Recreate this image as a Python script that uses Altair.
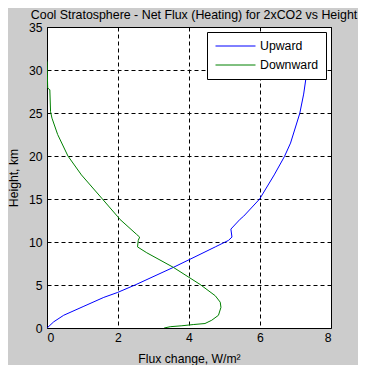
import altair as alt
import pandas as pd

# Upward flux change (W/m^2) vs height (km)
up_height = [0, 0.07, 0.72, 1.48, 2.53, 3.56, 4.12, 5.0, 7.05, 8.56, 9.43, 10.18,
             10.57, 11.5, 12.65, 13.0, 15.0, 17.8, 19.95, 21.5, 24.95, 27.2, 29.5, 30.0]
up_flux = [0, 0.02, 0.19, 0.47, 1.04, 1.6, 1.98, 2.48, 3.56, 4.31, 4.74, 5.11,
           5.21, 5.18, 5.44, 5.54, 5.99, 6.4, 6.69, 6.86, 7.12, 7.23, 7.31, 7.33]

# Downward flux change (W/m^2) vs height (km)
down_height = [0, 0.15, 0.26, 0.4, 0.52, 0.9, 1.48, 2.4, 3.0, 3.75, 5.07, 7.05, 8.75,
               9.43, 10.18, 10.57, 10.9, 12.65, 13.0, 15.1, 17.8, 20.0, 22.5, 24.4,
               25.15, 27.7, 27.9, 31.0]
down_flux = [3.3, 3.47, 3.8, 4.12, 4.45, 4.64, 4.83, 4.9, 4.88, 4.74, 4.31, 3.56, 2.81,
             2.55, 2.57, 2.61, 2.52, 2.05, 1.98, 1.54, 0.97, 0.59, 0.3, 0.14,
             0.1, 0.08, 0.02, 0.0]

series_names = ["Upward", "Downward"]
series_colors = ["#0000ff", "#008000"]
x_ticks = [0, 2, 4, 6, 8]
y_ticks = [0, 5, 10, 15, 20, 25, 30, 35]

rows = []
for i, (h, f) in enumerate(zip(up_height, up_flux)):
    rows.append({"series": "Upward", "height": h, "flux": f, "idx": i})
for i, (h, f) in enumerate(zip(down_height, down_flux)):
    rows.append({"series": "Downward", "height": h, "flux": f, "idx": i})
df = pd.DataFrame(rows)

FONT = "Liberation Sans"
FS = 12.2

chart = alt.Chart(df).mark_line(strokeWidth=1, clip=True).encode(
    x=alt.X("flux:Q",
            scale=alt.Scale(domain=[0, 8], nice=False, zero=False),
            axis=alt.Axis(values=x_ticks, title="Flux change, W/m²",
                          labelPadding=3, titlePadding=9)),
    y=alt.Y("height:Q",
            scale=alt.Scale(domain=[0, 35], nice=False),
            axis=alt.Axis(values=y_ticks, title="Height, km",
                          labelPadding=5, titlePadding=8)),
    color=alt.Color("series:N",
                    scale=alt.Scale(domain=series_names, range=series_colors),
                    legend=alt.Legend(orient="none", legendX=160, legendY=5,
                                      title=None, fillColor="white",
                                      strokeColor="black", padding=7,
                                      symbolType="stroke", symbolSize=1600,
                                      symbolStrokeWidth=1, symbolOffset=1,
                                      clipHeight=14, rowPadding=5,
                                      labelFontSize=12.3, labelFont=FONT,
                                      labelColor="black", labelOffset=4)),
    order="idx:Q",
).properties(
    width=284,
    height=301,
    title=alt.TitleParams("Cool Stratosphere - Net Flux (Heating) for 2xCO2 vs Height",
                          anchor="middle", frame="group", fontSize=12.4,
                          fontWeight="normal", font=FONT, color="black",
                          offset=0, dx=5),
    background="#cccccc",
    padding={"left": 39, "top": 19, "right": 27, "bottom": 37},
    autosize=alt.AutoSizeParams(type="none"),
).configure_view(
    fill="white", stroke="black", strokeWidth=1
).configure_axis(
    grid=True, gridColor="black", gridDash=[4, 3], gridOpacity=1, gridWidth=1,
    domain=False, ticks=False,
    labelFont=FONT, labelFontSize=FS, labelColor="black",
    titleFont=FONT, titleFontSize=FS, titleFontWeight="normal", titleColor="black",
)

chart.save("out.html", embed_options={"renderer": "svg", "actions": False})
